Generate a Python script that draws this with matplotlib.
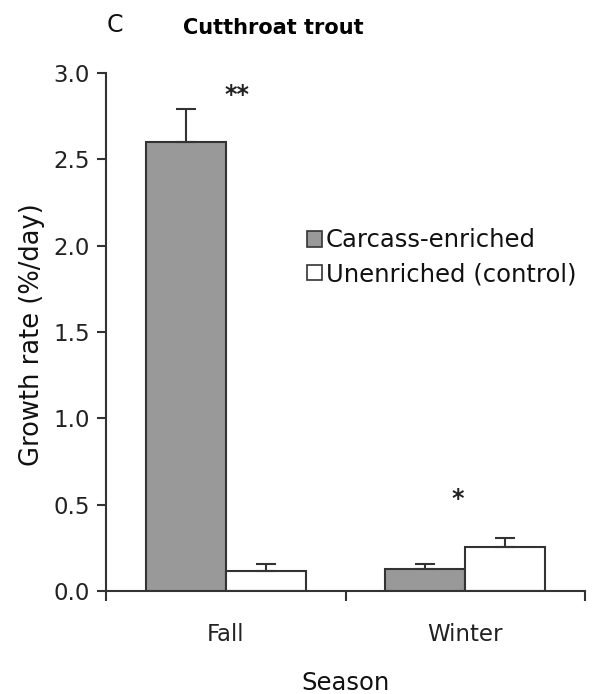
import matplotlib
matplotlib.use("Agg")
import matplotlib.pyplot as plt
from matplotlib.patches import Patch
import numpy as np

seasons = ["Fall", "Winter"]
series = ["Carcass-enriched", "Unenriched (control)"]
carcass = [2.60, 0.13]
carcass_err = [0.19, 0.025]
control = [0.115, 0.255]
control_err = [0.04, 0.05]
stars = ["**", "*"]
star_x_offset = [0.045, -0.03]
star_y = [2.87, 0.53]

plt.rcParams['font.family'] = ['DejaVu Sans']
fig = plt.figure(figsize=(5.92, 6.94), dpi=100)
ax = fig.add_axes([106/592, 1-591/694, (585-106)/592, (591-73)/694])

x = np.arange(len(seasons))
w = 0.335
ec = '#333333'
ax.bar(x - w/2, carcass, w, color='#999999', edgecolor=ec, linewidth=1.5, zorder=2)
ax.bar(x + w/2, control, w, color='white', edgecolor=ec, linewidth=1.5, zorder=2)
ax.errorbar(x - w/2, carcass, yerr=[np.zeros(2), carcass_err], fmt='none',
            ecolor=ec, elinewidth=1.5, capsize=7, capthick=1.5, zorder=3)
ax.errorbar(x + w/2, control, yerr=[np.zeros(2), control_err], fmt='none',
            ecolor=ec, elinewidth=1.5, capsize=7, capthick=1.5, zorder=3)
for xi, s, dx, sy in zip(x, stars, star_x_offset, star_y):
    ax.text(xi + dx, sy, s, ha='center', va='center', fontsize=17,
            fontweight='bold', color='#222222')

ax.set_xlim(-0.5, 1.5)
ax.set_ylim(0, 3.0)
yt = np.arange(0, 3.01, 0.5)
ax.set_yticks(yt)
ax.set_yticklabels([f"{v:.1f}" for v in yt])
ax.set_xticks(x)
ax.set_xticklabels(seasons)
ax.set_xticks([-0.5, 0.5, 1.5], minor=True)
ax.tick_params(axis='x', which='major', length=0, pad=23, labelsize=16.5, labelcolor='#222222')
ax.tick_params(axis='x', which='minor', length=7, width=1.5, direction='out', color=ec)
ax.tick_params(axis='y', length=6.5, width=1.5, direction='out', color=ec,
               labelsize=16.5, pad=5, labelcolor='#222222')
for sp in ['top', 'right']:
    ax.spines[sp].set_visible(False)
for sp in ['left', 'bottom']:
    ax.spines[sp].set_color(ec)
    ax.spines[sp].set_linewidth(1.5)

ax.set_ylabel("Growth rate (%/day)", fontsize=18.5, color='#111111')
ax.yaxis.set_label_coords(-0.127, 0.495)
ax.set_xlabel("Season", fontsize=17.5, color='#111111')
ax.xaxis.set_label_coords(0.5, -0.155)

handles = [Patch(facecolor='#999999', edgecolor=ec, linewidth=1.2),
           Patch(facecolor='white', edgecolor=ec, linewidth=1.2)]
leg = ax.legend(handles, series, loc='upper left', bbox_to_anchor=(0.42, 0.7),
                frameon=False, fontsize=17.5, handlelength=0.62, handleheight=0.62,
                handletextpad=0.15, labelspacing=0.4, borderpad=0, borderaxespad=0)
for t in leg.get_texts():
    t.set_color('#111111')

fig.text(107/592, 1-25/694, "C", fontsize=17, ha='left', va='center', color='#111111')
fig.text(183/592, 1-28/694, "Cutthroat trout", fontsize=15, fontweight='bold',
         ha='left', va='center')

fig.savefig("out.png", dpi=100)
